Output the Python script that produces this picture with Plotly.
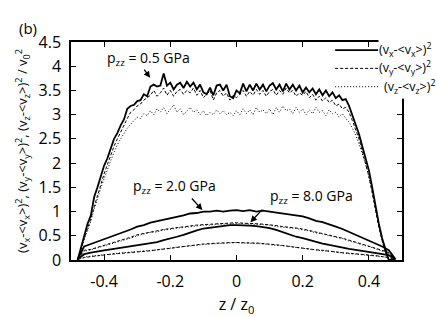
import plotly.graph_objects as go

# z grid for the 0.5 GPa curves (step 0.01) and for the 2.0 / 8.0 GPa curves (step 0.02)
z_fine = [round(-0.48 + 0.01 * i, 2) for i in range(97)]
z_coarse = [round(-0.48 + 0.02 * i, 2) for i in range(49)]

p05_vx = [0.0, 0.25, 0.55, 0.75, 0.92, 1.3, 1.5, 1.72, 1.95, 2.1,
          2.3, 2.5, 2.62, 2.78, 2.9, 3.12, 3.18, 3.2, 3.28, 3.3,
          3.42, 3.38, 3.58, 3.62, 3.58, 3.6, 3.85, 3.6, 3.66, 3.52,
          3.62, 3.66, 3.55, 3.68, 3.58, 3.66, 3.52, 3.62, 3.46, 3.42,
          3.56, 3.4, 3.6, 3.62, 3.5, 3.62, 3.38, 3.34, 3.5, 3.44,
          3.64, 3.48, 3.62, 3.5, 3.64, 3.52, 3.62, 3.48, 3.6, 3.65,
          3.52, 3.62, 3.48, 3.64, 3.52, 3.62, 3.5, 3.6, 3.46, 3.56,
          3.46, 3.54, 3.42, 3.52, 3.4, 3.5, 3.38, 3.46, 3.34, 3.4,
          3.3, 3.32, 3.18, 3.0, 2.82, 2.6, 2.35, 2.1, 1.85, 1.5,
          1.1, 0.75, 0.45, 0.2, 0.0, 0.0, 0.0]
p05_vy = [0.0, 0.2, 0.45, 0.65, 0.85, 1.1, 1.35, 1.55, 1.78, 1.98,
          2.15, 2.35, 2.5, 2.65, 2.8, 2.92, 3.05, 3.1, 3.18, 3.22,
          3.3, 3.35, 3.4, 3.5, 3.38, 3.45, 3.55, 3.4, 3.5, 3.38,
          3.48, 3.52, 3.42, 3.5, 3.45, 3.55, 3.4, 3.5, 3.35, 3.42,
          3.5, 3.3, 3.45, 3.5, 3.38, 3.45, 3.3, 3.4, 3.35, 3.42,
          3.5, 3.38, 3.48, 3.4, 3.52, 3.42, 3.5, 3.38, 3.48, 3.52,
          3.4, 3.5, 3.42, 3.55, 3.45, 3.5, 3.38, 3.45, 3.4, 3.48,
          3.35, 3.42, 3.3, 3.38, 3.28, 3.35, 3.25, 3.3, 3.18, 3.22,
          3.12, 3.15, 3.05, 2.88, 2.7, 2.5, 2.25, 2.0, 1.72, 1.38,
          1.02, 0.68, 0.4, 0.16, 0.0, 0.0, 0.0]
p05_vz = [0.0, 0.18, 0.42, 0.6, 0.8, 1.05, 1.28, 1.48, 1.68, 1.88,
          2.05, 2.22, 2.38, 2.5, 2.62, 2.72, 2.8, 2.88, 2.95, 2.92,
          3.02, 2.98, 3.08, 3.0, 3.12, 3.05, 3.15, 3.02, 3.1, 3.2,
          3.05, 3.12, 3.0, 3.08, 3.15, 3.05, 3.1, 3.0, 3.08, 2.98,
          3.05, 3.0, 3.1, 3.02, 3.08, 3.0, 3.05, 2.98, 3.08, 3.0,
          3.12, 3.02, 3.1, 3.0, 3.15, 3.05, 3.1, 3.02, 3.12, 3.0,
          3.15, 3.05, 3.18, 3.08, 3.12, 3.02, 3.15, 3.05, 3.12, 3.0,
          3.1, 3.02, 3.15, 3.05, 3.08, 2.98, 3.1, 3.02, 3.05, 2.95,
          3.02, 2.92, 2.85, 2.72, 2.58, 2.4, 2.2, 1.98, 1.72, 1.42,
          1.05, 0.7, 0.4, 0.15, 0.0, 0.0, 0.0]

p20_vx = [0.02, 0.28, 0.33, 0.38, 0.42, 0.47, 0.52, 0.57, 0.63, 0.69,
          0.72, 0.77, 0.8, 0.83, 0.86, 0.88, 0.92, 0.96, 0.97, 1.0,
          1.0, 1.02, 1.0, 1.02, 1.03, 1.01, 1.03, 1.0, 1.02, 1.0,
          0.98, 0.96, 0.94, 0.92, 0.9, 0.86, 0.81, 0.78, 0.74, 0.69,
          0.64, 0.58, 0.53, 0.47, 0.41, 0.35, 0.28, 0.2, 0.02]
p20_vy = [0.02, 0.2, 0.22, 0.26, 0.3, 0.34, 0.38, 0.42, 0.47, 0.52,
          0.55, 0.58, 0.6, 0.63, 0.65, 0.67, 0.69, 0.7, 0.72, 0.73,
          0.74, 0.75, 0.76, 0.76, 0.77, 0.76, 0.76, 0.75, 0.74, 0.73,
          0.71, 0.69, 0.68, 0.66, 0.64, 0.61, 0.58, 0.55, 0.52, 0.49,
          0.45, 0.41, 0.37, 0.33, 0.29, 0.25, 0.2, 0.15, 0.02]
p20_vz = [0.02, 0.18, 0.21, 0.25, 0.28, 0.33, 0.36, 0.41, 0.45, 0.5,
          0.53, 0.57, 0.58, 0.62, 0.63, 0.66, 0.67, 0.69, 0.7, 0.72,
          0.72, 0.74, 0.74, 0.75, 0.75, 0.75, 0.74, 0.74, 0.72, 0.72,
          0.69, 0.68, 0.66, 0.65, 0.62, 0.6, 0.56, 0.54, 0.5, 0.47,
          0.44, 0.39, 0.36, 0.31, 0.28, 0.23, 0.19, 0.14, 0.02]

p80_vx = [0.02, 0.12, 0.15, 0.18, 0.2, 0.22, 0.24, 0.26, 0.28, 0.3,
          0.32, 0.34, 0.37, 0.41, 0.44, 0.48, 0.52, 0.57, 0.61, 0.65,
          0.67, 0.69, 0.7, 0.72, 0.72, 0.72, 0.71, 0.7, 0.68, 0.66,
          0.62, 0.57, 0.52, 0.48, 0.45, 0.41, 0.37, 0.34, 0.31, 0.28,
          0.25, 0.23, 0.21, 0.19, 0.17, 0.15, 0.13, 0.1, 0.02]
p80_vy = [0.01, 0.05, 0.07, 0.09, 0.1, 0.12, 0.13, 0.14, 0.15, 0.17,
          0.18, 0.19, 0.21, 0.22, 0.24, 0.26, 0.28, 0.3, 0.31, 0.33,
          0.34, 0.35, 0.35, 0.36, 0.36, 0.36, 0.35, 0.35, 0.34, 0.33,
          0.31, 0.3, 0.28, 0.26, 0.25, 0.23, 0.21, 0.2, 0.18, 0.17,
          0.15, 0.14, 0.13, 0.11, 0.1, 0.09, 0.07, 0.05, 0.01]
p80_vz = [0.01, 0.06, 0.08, 0.09, 0.11, 0.12, 0.14, 0.15, 0.16, 0.17,
          0.19, 0.2, 0.21, 0.23, 0.25, 0.26, 0.28, 0.29, 0.31, 0.32,
          0.33, 0.34, 0.35, 0.35, 0.36, 0.35, 0.35, 0.34, 0.33, 0.32,
          0.31, 0.29, 0.28, 0.26, 0.24, 0.23, 0.21, 0.19, 0.18, 0.16,
          0.15, 0.13, 0.12, 0.11, 0.09, 0.08, 0.07, 0.05, 0.01]

legend_names = ["(v<sub>x</sub>-&lt;v<sub>x</sub>&gt;)<sup>2</sup>",
                "(v<sub>y</sub>-&lt;v<sub>y</sub>&gt;)<sup>2</sup>",
                "(v<sub>z</sub>-&lt;v<sub>z</sub>&gt;)<sup>2</sup>"]

styles = [dict(color="black", width=1.8, dash="solid"),
          dict(color="black", width=1.0, dash="3px,2px"),
          dict(color="black", width=1.0, dash="1px,2px")]

fig = go.Figure()
groups = [(z_fine, [p05_vx, p05_vy, p05_vz]),
          (z_coarse, [p20_vx, p20_vy, p20_vz]),
          (z_coarse, [p80_vx, p80_vy, p80_vz])]
for zs, series in groups:
    for k, ys in enumerate(series):
        fig.add_trace(go.Scatter(x=zs, y=ys, mode="lines", line=styles[k],
                                 name=legend_names[k], showlegend=False))

FONT = "Open Sans, Liberation Sans, Arial, sans-serif"

ann_font = dict(family=FONT, size=14, color="black")
annotations = [
    dict(x=-0.267, y=4.15, text="p<sub>zz</sub> = 0.5 GPa", showarrow=False, font=ann_font),
    dict(x=-0.188, y=1.51, text="p<sub>zz</sub> = 2.0 GPa", showarrow=False, font=ann_font),
    dict(x=0.227, y=1.32, text="p<sub>zz</sub> = 8.0 GPa", showarrow=False, font=ann_font),
    dict(x=-0.261, y=3.76, ax=-0.282, ay=3.96, axref="x", ayref="y", text="",
         showarrow=True, arrowhead=2, arrowsize=1, arrowwidth=1.3, arrowcolor="black"),
    dict(x=-0.103, y=1.03, ax=-0.139, ay=1.30, axref="x", ayref="y", text="",
         showarrow=True, arrowhead=2, arrowsize=1, arrowwidth=1.3, arrowcolor="black"),
    dict(x=0.042, y=0.78, ax=0.082, ay=1.07, axref="x", ayref="y", text="",
         showarrow=True, arrowhead=2, arrowsize=1, arrowwidth=1.3, arrowcolor="black"),
    dict(x=-0.163, y=1.119, xref="paper", yref="paper", text="(b)", showarrow=False,
         font=dict(family=FONT, size=15, color="black")),
]

# hand-drawn key (paper coordinates)
key_rows_y = [0.963, 0.879, 0.795]
key_text_x = [0.928, 0.928, 0.943]
shapes = [dict(type="rect", xref="paper", yref="paper", x0=0.985, x1=1.03,
               y0=0.74, y1=0.972, fillcolor="white", line=dict(width=0), layer="above")]
for k in range(3):
    shapes.append(dict(type="line", xref="paper", yref="paper", x0=0.798, x1=0.928,
                       y0=key_rows_y[k], y1=key_rows_y[k], line=styles[k], layer="above"))
    annotations.append(dict(x=key_text_x[k], y=key_rows_y[k], xref="paper", yref="paper",
                            xanchor="left", yanchor="middle", text=legend_names[k],
                            showarrow=False, bgcolor="white", borderpad=0,
                            font=dict(family=FONT, size=12.5, color="black")))

axis_common = dict(showline=True, linecolor="black", linewidth=1.5, mirror="ticks",
                   ticks="inside", ticklen=5, tickwidth=1, tickcolor="black",
                   showgrid=False, zeroline=False, automargin=False,
                   tickfont=dict(family=FONT, size=16, color="black"))

fig.update_layout(
    template="none",
    width=436, height=317,
    margin=dict(l=71, r=34, t=42, b=57, autoexpand=False),
    paper_bgcolor="white", plot_bgcolor="white",
    font=dict(family=FONT, color="black"),
    xaxis=dict(range=[-0.5, 0.5], tickvals=[-0.4, -0.2, 0, 0.2, 0.4],
               ticktext=["-0.4", "-0.2", "0", "0.2", "0.4"], ticklabelstandoff=6,
               title=dict(text="z / z<sub>0</sub>", font=dict(family=FONT, size=16), standoff=8),
               **axis_common),
    yaxis=dict(range=[0, 4.5], tickvals=[0, 0.5, 1, 1.5, 2, 2.5, 3, 3.5, 4, 4.5],
               ticktext=["0", "0.5", "1", "1.5", "2", "2.5", "3", "3.5", "4", "4.5"],
               ticklabelstandoff=5,
               title=dict(text="(v<sub>x</sub>-&lt;v<sub>x</sub>&gt;)<sup>2</sup>, "
                               "(v<sub>y</sub>-&lt;v<sub>y</sub>&gt;)<sup>2</sup>, "
                               "(v<sub>z</sub>-&lt;v<sub>z</sub>&gt;)<sup>2</sup> / v<sub>0</sub><sup>2</sup>",
                          font=dict(family=FONT, size=13), standoff=8),
               **axis_common),
    annotations=annotations,
    shapes=shapes,
    showlegend=False,
)

fig.write_html("out.html", config={"displayModeBar": False},
               post_script="document.body.style.margin='0';document.body.style.padding='0';")
